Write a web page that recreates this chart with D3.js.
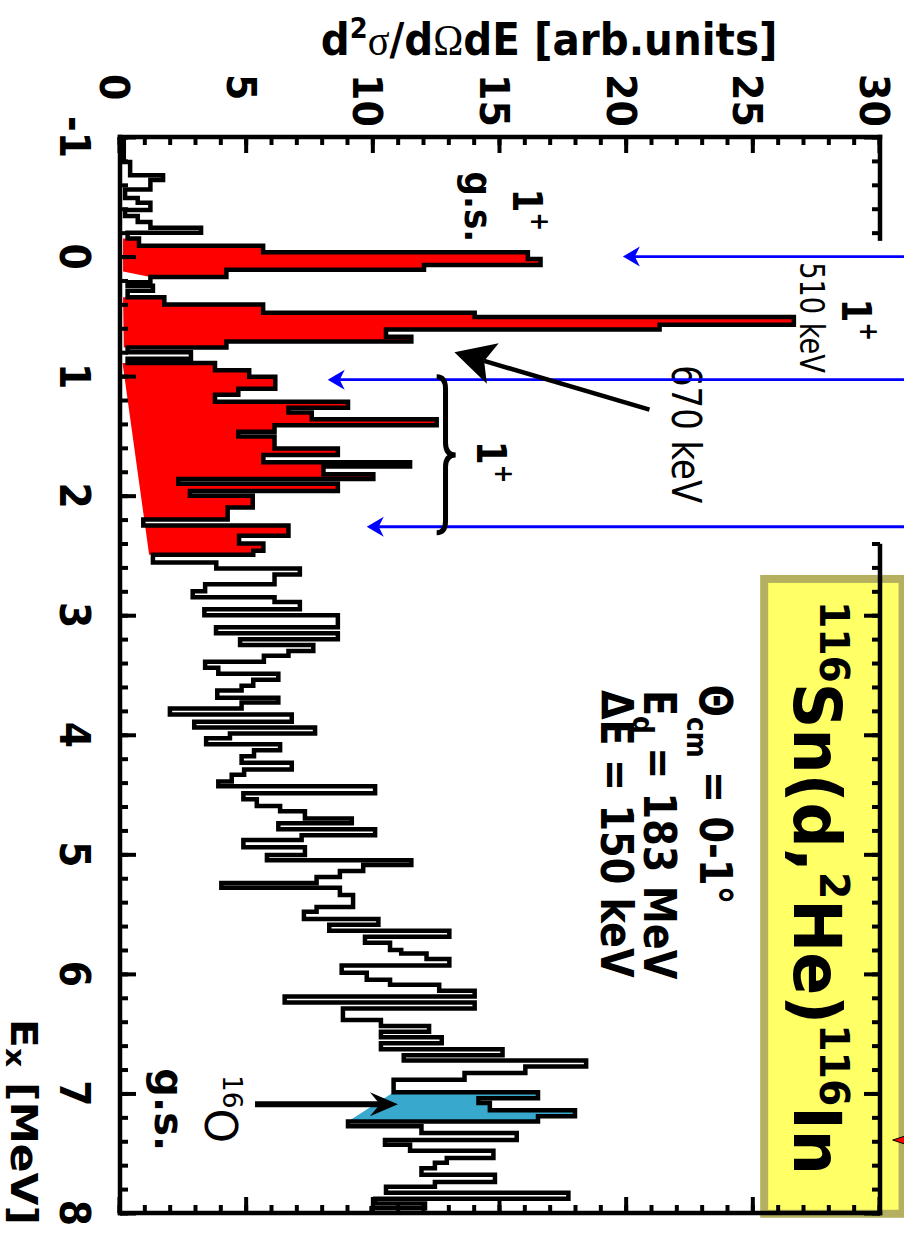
<!DOCTYPE html>
<html>
<head>
<meta charset="utf-8">
<script src="https://cdnjs.cloudflare.com/ajax/libs/d3/7.8.5/d3.min.js"></script>
<style>
  body { margin: 0; background: #fff; }
  svg { display: block; }
</style>
</head>
<body>
<div id="chart"></div>
<script>
// histogram: Ex [MeV] where each step starts, and its value [arb. units]
var stepEx = [-1.0, -0.79, -0.68, -0.64, -0.56, -0.49, -0.45, -0.39, -0.34, -0.29,
  -0.24, -0.20, -0.15, -0.09, -0.035, 0.02, 0.07, 0.11, 0.17, 0.215,
  0.245, 0.285, 0.34, 0.40, 0.47, 0.505, 0.57, 0.61, 0.67, 0.71,
  0.76, 0.80, 0.855, 0.89, 0.95, 1.005, 1.105, 1.155, 1.215, 1.265,
  1.305, 1.36, 1.41, 1.465, 1.505, 1.605, 1.66, 1.72, 1.755, 1.82,
  1.86, 1.90, 1.96, 2.00, 2.10, 2.20, 2.25, 2.335, 2.40, 2.46,
  2.495, 2.56, 2.61, 2.66, 2.74, 2.80, 2.85, 2.89, 2.95, 3.00,
  3.10, 3.15, 3.20, 3.25, 3.30, 3.34, 3.39, 3.44, 3.49, 3.54,
  3.59, 3.63, 3.69, 3.73, 3.78, 3.83, 3.89, 3.94, 3.99, 4.03,
  4.08, 4.13, 4.18, 4.235, 4.29, 4.335, 4.39, 4.43, 4.49, 4.54,
  4.595, 4.64, 4.70, 4.74, 4.79, 4.84, 4.88, 4.94, 5.005, 5.05,
  5.09, 5.14, 5.19, 5.24, 5.28, 5.34, 5.44, 5.48, 5.54, 5.59,
  5.64, 5.69, 5.74, 5.80, 5.83, 5.875, 5.93, 5.99, 6.05, 6.09,
  6.14, 6.19, 6.24, 6.29, 6.385, 6.435, 6.485, 6.53, 6.58, 6.63,
  6.68, 6.725, 6.775, 6.83, 6.885, 6.99, 7.04, 7.08, 7.14, 7.19,
  7.235, 7.275, 7.33, 7.39, 7.43, 7.48, 7.54, 7.58, 7.625, 7.68,
  7.74, 7.78, 7.83, 7.88, 7.92, 7.96];
var stepVal = [0.15, 0.4, 1.7, 1.2, 0.2, 0.7, 1.2, 0.2, 0.7, 1.2,
  3.2, 0.3, 0.75, 5.65, 16.1, 16.6, 12.0, 4.2, 1.2, 0.3,
  1.3, 0.3, 1.75, 5.65, 14.0, 26.6, 21.3, 10.5, 11.5, 4.2,
  0.3, 2.8, 0.3, 3.75, 5.1, 6.13, 4.67, 3.75, 9.0, 6.65,
  7.57, 12.5, 6.1, 4.67, 6.1, 8.6, 5.66, 11.45, 8.03, 10.0,
  2.3, 8.6, 2.76, 5.24, 4.25, 0.92, 6.65, 4.7, 5.66, 5.26,
  1.3, 3.8, 7.1, 6.1, 3.36, 2.87, 6.1, 7.1, 3.33, 8.6,
  3.79, 8.6, 4.74, 7.63, 6.65, 5.68, 3.36, 3.88, 6.25, 5.26,
  4.8, 3.84, 6.25, 4.8, 1.97, 6.78, 2.93, 7.7, 4.34, 3.4,
  6.32, 5.29, 4.8, 6.78, 4.9, 4.41, 3.88, 10.07, 4.87, 5.4,
  6.32, 7.3, 9.15, 6.25, 10.07, 7.17, 4.87, 7.3, 5.8, 11.5,
  9.6, 8.68, 7.76, 4.0, 8.68, 9.2, 7.76, 7.26, 10.2, 8.26,
  13.0, 9.67, 10.66, 11.1, 12.1, 13.0, 8.75, 9.74, 10.66, 12.6,
  14.0, 6.5, 14.0, 8.8, 10.3, 12.2, 10.3, 12.7, 10.3, 15.1,
  11.2, 18.4, 16.0, 13.6, 10.8, 16.5, 14.15, 14.6, 17.96, 16.5,
  9.0, 11.9, 15.66, 10.46, 11.45, 14.74, 12.9, 12.43, 11.9, 14.8,
  12.43, 10.5, 17.7, 10.07, 12.04, 9.93];

// shaded regions: Ex range and the straight background line under it
var redRanges = [[-0.15, 0.17], [0.34, 0.76], [0.89, 2.495]];
var redBase = [
  [[-0.15, 0.12], [0.125, 0.12], [0.17, 1.2]],
  [[0.34, 0.12], [0.76, 0.15]],
  [[0.89, 0.1], [2.495, 1.15]]
];
var blueRange = [6.99, 7.235];
var blueBase = [[6.99, 10.8], [7.235, 9.0]];

// axis ticks
var exTicks = [-1, 0, 1, 2, 3, 4, 5, 6, 7, 8];
var sigTicks = [0, 5, 10, 15, 20, 25, 30];

// blue arrows from the right: Ex and value of the tip
var blueArrowEx = [0.0, 1.03, 2.26];
var blueArrowTip = [19.85, 8.2, 9.74];

var W = 904, H = 1233;
var FONT = "DejaVu Sans";

var svg = d3.select("#chart").append("svg")
    .attr("width", W)
    .attr("height", H);

// the whole plot is turned a quarter turn clockwise
var g = svg.append("g").attr("transform", "translate(" + W + ",0) rotate(90)");

var x = d3.scaleLinear().domain([-1, 8]).range([137, 1213]);
var y = d3.scaleLinear().domain([0, 30]).range([784, 24]);

// step polygon of the histogram between a and b
function stepPoints(a, b) {
    var pts = [];
    for (var i = 0; i < stepEx.length; i++) {
        var e0 = Math.max(stepEx[i], a);
        var e1 = Math.min(i < stepEx.length - 1 ? stepEx[i + 1] : 8, b);
        if (e1 > e0) {
            pts.push([e0, stepVal[i]]);
            pts.push([e1, stepVal[i]]);
        }
    }
    return pts;
}

var polyLine = d3.line().x(d => x(d[0])).y(d => y(d[1]));

redRanges.forEach(function (r, i) {
    var pts = stepPoints(r[0], r[1]).concat(redBase[i].slice().reverse());
    g.append("path")
        .attr("d", polyLine(pts) + "Z")
        .attr("fill", "#ff0000");
});

g.append("path")
    .attr("d", polyLine(stepPoints(blueRange[0], blueRange[1]).concat(blueBase.slice().reverse())) + "Z")
    .attr("fill", "#38a9cc");

// histogram outline
var histPts = stepEx.map((e, i) => [e, stepVal[i]]);
histPts.push([8, stepVal[stepVal.length - 1]]);
g.append("path")
    .attr("d", d3.line().x(d => x(d[0])).y(d => y(d[1])).curve(d3.curveStepAfter)(histPts))
    .attr("fill", "none")
    .attr("stroke", "#000")
    .attr("stroke-width", 4.5);

// yellow reaction box
g.append("rect")
    .attr("x", x(2.663) + 4)
    .attr("y", y(31.05) + 4)
    .attr("width", x(8.04) - x(2.663) - 8)
    .attr("height", y(25.27) - y(31.05) - 8)
    .attr("fill", "#ffff66")
    .attr("stroke", "#b4b05f")
    .attr("stroke-width", 8);

// ticks
function tickRow(axis, tr) {
    g.append("g")
        .attr("transform", tr)
        .call(axis)
        .call(s => s.select(".domain").remove())
        .call(s => s.selectAll("text").remove())
        .call(s => s.selectAll("line").attr("stroke", "#000").attr("stroke-width", 4));
}
var exMinor = d3.range(-1, 8.001, 0.2).map(d => Math.round(d * 10) / 10);
var exRight = exMinor.filter(d => d <= -0.15 || d >= 2.39);
var sigMinor = d3.range(0, 31, 1);

tickRow(d3.axisBottom(x).tickValues(exMinor).tickSize(-8), "translate(0," + y(0) + ")");
tickRow(d3.axisBottom(x).tickValues(exTicks).tickSize(-16), "translate(0," + y(0) + ")");
tickRow(d3.axisTop(x).tickValues(exRight).tickSize(-8), "translate(0," + y(30) + ")");
tickRow(d3.axisTop(x).tickValues(exTicks.filter(d => exRight.indexOf(d) >= 0)).tickSize(-16), "translate(0," + y(30) + ")");
tickRow(d3.axisLeft(y).tickValues(sigMinor).tickSize(-8), "translate(" + x(-1) + ",0)");
tickRow(d3.axisLeft(y).tickValues(sigTicks).tickSize(-16), "translate(" + x(-1) + ",0)");
tickRow(d3.axisRight(y).tickValues(sigMinor).tickSize(-8), "translate(" + x(8) + ",0)");
tickRow(d3.axisRight(y).tickValues(sigTicks).tickSize(-16), "translate(" + x(8) + ",0)");

// frame
var frame = [
    [[-1, 0], [8, 0]],
    [[-1, 0], [-1, 30]],
    [[8, 0], [8, 30]],
    [[-1, 30], [-0.15, 30]],
    [[2.42, 30], [8, 30]]
];
frame.forEach(function (f) {
    g.append("path")
        .attr("d", polyLine(f))
        .attr("stroke", "#000")
        .attr("stroke-width", 4.5)
        .attr("stroke-linecap", "square");
});

// text in the turned frame, scaled along its reading direction
function addText(ex, val, anchor, size, weight, sx, parts) {
    var t = g.append("text")
        .attr("transform", "translate(" + x(ex) + "," + y(val) + ") scale(" + sx + ",1)")
        .attr("text-anchor", anchor)
        .attr("font-family", FONT)
        .attr("font-size", size)
        .attr("font-weight", weight);
    var rise = 0;
    parts.forEach(function (p) {
        var r = p.rise || 0;
        t.append("tspan")
            .attr("dy", (rise - r) * size)
            .attr("font-size", (p.scale || 1) * size)
            .text(p.text);
        rise = r;
    });
    return t;
}

// tick labels
exTicks.forEach(function (d) {
    addText(d, -2.35, "middle", 42, "bold", 0.9, [{ text: String(d) }]);
});
sigTicks.forEach(function (d) {
    g.append("text")
        .attr("transform", "translate(74," + (y(d) + 20) + ") scale(0.95,1)")
        .attr("text-anchor", "start")
        .attr("font-family", FONT)
        .attr("font-size", 40)
        .attr("font-weight", "bold")
        .text(d);
});

// axis titles
addText(8.1, -4.3, "end", 37, "bold", 1.15,
    [{ text: "E" }, { text: "x", rise: -0.15, scale: 0.7 }, { text: " [MeV]" }]);

var yt = g.append("text")
    .attr("transform", "translate(" + x(-1.69) + "," + y(16.94) + ") rotate(-90) scale(0.92,1)")
    .attr("text-anchor", "middle")
    .attr("font-family", FONT)
    .attr("font-size", 44)
    .attr("font-weight", "bold");
yt.append("tspan").text("d");
yt.append("tspan").attr("dy", -17).attr("font-size", 28).text("2");
yt.append("tspan").attr("dy", 17).attr("font-family", "Liberation Serif").attr("font-weight", "normal").text("σ");
yt.append("tspan").text("/d");
yt.append("tspan").attr("font-family", "Liberation Serif").attr("font-weight", "normal").text("Ω");
yt.append("tspan").text("dE [arb.units]");

// annotations
var sup = { text: "+", rise: 0.45, scale: 0.65 };
addText(-0.39, 15.5, "middle", 40, "bold", 0.85, [{ text: "1" }, sup]);
addText(-0.415, 13.6, "middle", 38, "bold", 0.9, [{ text: "g.s." }]);
addText(0.53, 28.5, "middle", 40, "bold", 0.85, [{ text: "1" }, sup]);
addText(0.51, 26.85, "middle", 34, "normal", 0.8, [{ text: "510 keV" }]);
addText(1.485, 21.8, "middle", 40, "normal", 0.85, [{ text: "670 keV" }]);
addText(1.72, 14.1, "middle", 40, "bold", 0.85, [{ text: "1" }, sup]);

addText(2.88, 26.6, "start", 66, "bold", 0.96, [
    { text: "116", rise: 0.4, scale: 0.62 }, { text: "Sn(d," },
    { text: "2", rise: 0.4, scale: 0.62 }, { text: "He)" },
    { text: "116", rise: 0.4, scale: 0.62 }, { text: "In" }]);

addText(3.58, 22.9, "start", 44, "bold", 0.87,
    [{ text: "Θ" }, { text: "cm", rise: -0.3, scale: 0.65 }, { text: " = 0-1°" }]);
addText(3.625, 20.7, "start", 44, "bold", 0.87,
    [{ text: "E" }, { text: "d", rise: -0.25, scale: 0.65 }, { text: " = 183 MeV" }]);
addText(3.625, 19.0, "start", 44, "bold", 0.87, [{ text: "ΔE = 150 keV" }]);

addText(6.845, 3.36, "start", 44, "normal", 1.0, [{ text: "16", rise: 0.4, scale: 0.6 }, { text: "O" }]);
addText(6.79, 1.38, "start", 40, "bold", 1.0, [{ text: "g.s." }]);

// arrows: line up to the notch, then a filled head
function arrow(tail, tip, len, half, notch, width, color) {
    var p0 = [x(tail[0]), y(tail[1])], p1 = [x(tip[0]), y(tip[1])];
    var dx = p1[0] - p0[0], dy = p1[1] - p0[1], L = Math.hypot(dx, dy);
    var ux = dx / L, uy = dy / L, nx = -uy, ny = ux;
    var bx = p1[0] - ux * len, by = p1[1] - uy * len;
    var kx = p1[0] - ux * notch, ky = p1[1] - uy * notch;
    g.append("line")
        .attr("x1", p0[0]).attr("y1", p0[1]).attr("x2", kx).attr("y2", ky)
        .attr("stroke", color).attr("stroke-width", width);
    g.append("path")
        .attr("d", "M" + p1 + "L" + [bx + nx * half, by + ny * half] + "L" + [kx, ky] +
            "L" + [bx - nx * half, by - ny * half] + "Z")
        .attr("fill", color);
}

blueArrowEx.forEach(function (e, i) {
    arrow([e, 31.5], [e, blueArrowTip[i]], 17, 10, 12, 2.8, "#0000ff");
});
arrow([1.28, 20.9], [0.80, 13.2], 40, 21, 31, 4.5, "#000");
arrow([7.09, 5.33], [7.09, 10.97], 28, 12, 18, 6, "#000");

// brace grouping the 1+ states
var bA = 1.006, bB = 2.31, bM = 1.66;
g.append("path")
    .attr("d", "M" + [x(bA), y(12.5)] +
        "Q" + [x(bA), y(12.85)] + " " + [x(bA) + 12, y(12.85)] +
        "L" + [x(bM) - 12, y(12.85)] +
        "Q" + [x(bM), y(12.85)] + " " + [x(bM), y(13.25)] +
        "Q" + [x(bM), y(12.85)] + " " + [x(bM) + 12, y(12.85)] +
        "L" + [x(bB) - 12, y(12.85)] +
        "Q" + [x(bB), y(12.85)] + " " + [x(bB), y(12.5)])
    .attr("fill", "none")
    .attr("stroke", "#000")
    .attr("stroke-width", 5);

// red marker cut by the right edge
g.append("path")
    .attr("d", polyLine([[7.39, 30.5], [7.335, 31.3], [7.445, 31.3]]) + "Z")
    .attr("fill", "#ff0000")
    .attr("stroke", "#000")
    .attr("stroke-width", 1);
</script>
</body>
</html>
